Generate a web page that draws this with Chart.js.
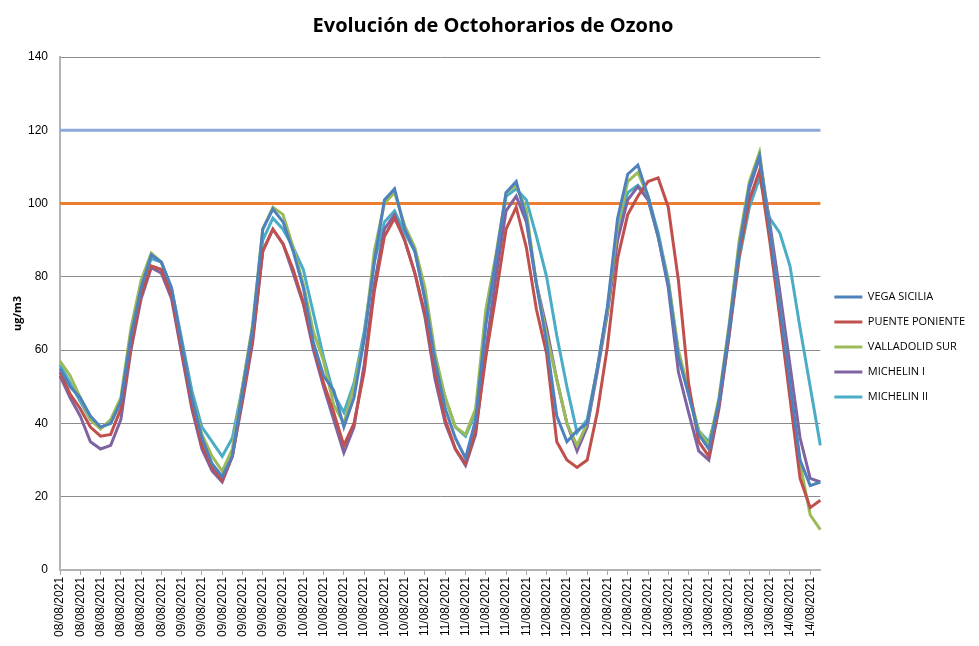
<!DOCTYPE html>
<html lang="es">
<head>
<meta charset="utf-8">
<title>Evolución de Octohorarios de Ozono</title>
<script src="https://cdn.jsdelivr.net/npm/chart.js@4.4.0/dist/chart.umd.min.js"></script>
<style>
  html, body { margin: 0; padding: 0; background: #fff; }
</style>
</head>
<body>
<canvas id="myChart" width="979" height="646"></canvas>
<script>
//Bloque de datos (un valor cada 2 horas)
const dias = ['08/08/2021', '09/08/2021', '10/08/2021', '11/08/2021', '12/08/2021', '13/08/2021', '14/08/2021'];
const valoresPorDia = [12, 12, 12, 12, 12, 12, 4];

const vegaSicilia = [55, 50, 47, 42, 39, 40, 46, 64, 77, 86, 84, 77,
    62, 47, 36, 29, 25.5, 31, 49, 66, 93, 98.5, 95, 87,
    77, 62, 53, 49, 39, 47, 63, 84, 101, 104, 93, 87,
    74, 57, 44, 36, 30.5, 41, 67, 85, 103, 106, 96, 78,
    62, 42, 35, 38, 40, 55, 72, 96, 108, 110.5, 102, 91,
    78, 58, 48, 37, 33, 46, 66, 88, 105, 113, 93, 72,
    51, 30, 23, 24];
const puentePoniente = [54, 48, 44, 39, 36.5, 37, 44, 61, 75, 83, 82, 75,
    60, 45, 34, 28, 24.5, 31, 47, 63, 87, 93, 89, 82,
    73, 61, 51, 43, 34, 40, 54, 76, 91, 96, 90, 81,
    70, 54, 41, 33, 29, 38, 58, 75, 93, 99, 88, 71,
    59, 35, 30, 28, 30, 43, 61, 85, 97, 102, 106, 107,
    99, 79, 51, 35, 31, 45, 65, 86, 101, 109, 90, 69,
    47, 25, 17, 19];
const valladolidSur = [57, 53, 47, 41, 38.5, 41, 47, 66, 79, 86.5, 84, 76,
    62, 47, 37, 31, 27, 33, 50, 67, 93, 99, 97, 88,
    78, 65, 57, 45, 40, 50, 63, 87, 100, 103, 94, 88,
    77, 59, 47, 39, 37, 44, 71, 86, 103, 105, 98, 78,
    64, 52, 40, 34, 40, 55, 71, 94, 106, 108.5, 102, 91,
    79, 60, 49, 38, 34, 47, 67, 90, 106, 114, 93, 72,
    50, 29, 15, 11];
const michelinI = [53, 47, 42, 35, 33, 34, 41, 60, 74, 82.5, 81, 74,
    59, 44, 33, 27, 24, 31, 46, 62, 87, 93, 89, 81,
    72.6, 60, 50, 41, 32, 39, 56, 78, 93, 97, 90, 81,
    69, 52, 40, 33, 28.5, 37, 60, 80, 98, 102, 95, 78,
    66, 52, 40, 32.5, 39, 54, 70, 90, 101, 104.6, 101, 91,
    77, 54, 43, 32.5, 30, 44, 64, 87, 104, 112.5, 95, 76,
    56, 36, 25, 24];
const michelinII = [56, 51, 46, 41, 39, 40, 46, 64, 77, 85, 84, 77,
    63, 49, 39, 35, 31, 36, 50, 66, 90, 96, 93, 88,
    82, 70, 58, 48, 43, 51, 65, 84, 95, 98, 92, 87,
    74, 57, 47, 39, 36.5, 43, 67, 84, 102, 104, 101, 91,
    80, 64, 50, 37.5, 41, 55, 71, 93, 103, 105, 102, 92,
    79, 59, 48, 38, 35, 45, 64, 85, 99, 107, 96, 92,
    83, 66, 50, 34];

const umbralInformacion = 120;
const valorObjetivo = 100;
const ticksY = [0, 20, 40, 60, 80, 100, 120, 140];

//Categorías: la fecha de cada valor
const categorias = [];
dias.forEach((d, i) => {
    for (let k = 0; k < valoresPorDia[i]; k++) categorias.push(d);
});

const serie = (label, data, color) => ({
    label, data,
    borderColor: color,
    backgroundColor: color,
    borderWidth: 3,
    pointRadius: 0,
    tension: 0,
    fill: false
});

const data = {
    labels: categorias,
    datasets: [
        serie('VEGA SICILIA', vegaSicilia, '#4F81BD'),
        serie('PUENTE PONIENTE', puentePoniente, '#C0504D'),
        serie('VALLADOLID SUR', valladolidSur, '#9BBB59'),
        serie('MICHELIN I', michelinI, '#8064A2'),
        serie('MICHELIN II', michelinII, '#4BACC6'),
        serie('Umbral 120', categorias.map(() => umbralInformacion), '#8EA9DB'),
        serie('Objetivo 100', categorias.map(() => valorObjetivo), '#ED7D31')
    ]
};

const options = {
    responsive: false,
    animation: false,
    layout: { padding: { left: 11, right: 4, top: 14, bottom: 7 } },
    plugins: {
        title: {
            display: true,
            text: 'Evolución de Octohorarios de Ozono',
            font: { family: 'Open Sans', size: 20, weight: 'bold' },
            color: '#000',
            padding: { top: 0, bottom: 19 }
        },
        legend: {
            position: 'right',
            align: 'center',
            labels: {
                filter: item => item.datasetIndex < 5,
                usePointStyle: true,
                pointStyle: 'line',
                pointStyleWidth: 28,
                font: { family: 'Open Sans', size: 11 },
                color: '#000',
                padding: 14
            },
            title: { display: true, text: ' ', font: { size: 1 }, padding: { top: 40, bottom: 0 } }
        },
        tooltip: { enabled: false }
    },
    scales: {
        x: {
            offset: false,
            grid: {
                drawOnChartArea: false,
                tickLength: 5,
                color: ctx => ctx.index % 2 === 0 ? '#a6a6a6' : 'rgba(0,0,0,0)'
            },
            border: { color: '#b3b3b3', width: 2 },
            ticks: {
                autoSkip: false,
                minRotation: 90,
                maxRotation: 90,
                padding: 2,
                color: '#000',
                font: { family: 'Liberation Sans', size: 12 },
                callback: function (value, index) {
                    return index % 2 === 0 ? this.getLabelForValue(value) : '';
                }
            }
        },
        y: {
            min: 0,
            max: 140,
            afterBuildTicks: axis => { axis.ticks = ticksY.map(v => ({ value: v })); },
            afterFit: axis => { axis.width = 49; },
            grid: { color: '#8c8c8c', drawTicks: false },
            border: { color: '#b3b3b3', width: 2 },
            ticks: {
                padding: 12,
                color: '#000',
                font: { family: 'Liberation Sans', size: 12 }
            },
            title: {
                display: true,
                text: 'ug/m3',
                color: '#000',
                font: { family: 'Open Sans', size: 11, weight: 'bold' },
                padding: { top: 0, bottom: 0 }
            }
        }
    }
};

const config = { type: 'line', data, options };

const myChart = new Chart(document.getElementById('myChart').getContext('2d'), config);
</script>
</body>
</html>
